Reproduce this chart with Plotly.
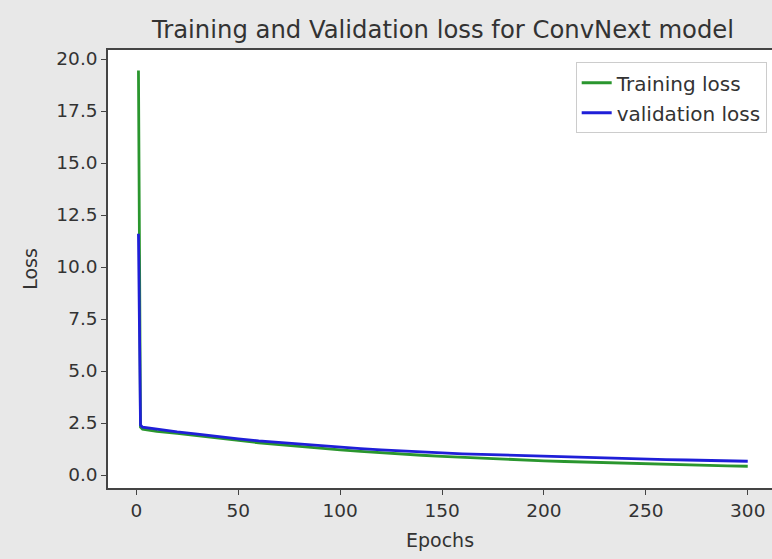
import plotly.graph_objects as go

epochs = [1, 2, 3, 5, 10, 20, 30, 40, 50, 60, 70, 80, 90, 100, 110, 120, 130, 140, 150,
          160, 170, 180, 190, 200, 210, 220, 230, 240, 250, 260, 270, 280, 290, 300]
train_loss = [19.45, 2.3, 2.2, 2.17, 2.1, 2.0, 1.88, 1.76, 1.65, 1.55, 1.46, 1.37, 1.29, 1.21,
              1.14, 1.07, 1.01, 0.95, 0.90, 0.85, 0.80, 0.76, 0.72, 0.68, 0.65, 0.62, 0.59,
              0.56, 0.53, 0.50, 0.48, 0.46, 0.44, 0.42]
val_loss = [11.6, 2.4, 2.3, 2.27, 2.2, 2.07, 1.96, 1.84, 1.74, 1.64, 1.56, 1.48, 1.40, 1.33,
            1.27, 1.21, 1.15, 1.10, 1.06, 1.02, 0.99, 0.95, 0.92, 0.89, 0.86, 0.83, 0.81,
            0.79, 0.76, 0.74, 0.72, 0.70, 0.68, 0.66]
x_ticks = [0, 50, 100, 150, 200, 250, 300]
y_ticks = [0.0, 2.5, 5.0, 7.5, 10.0, 12.5, 15.0, 17.5, 20.0]

FONT = "DejaVu Sans"
W, H = 772, 559
L, R, T, B = 108, 0, 50, 71

fig = go.Figure()
fig.add_trace(go.Scatter(x=epochs, y=train_loss, mode="lines", name="Training loss",
                         line=dict(color="#2a962e", width=2.8), legendgroup="a"))
fig.add_trace(go.Scatter(x=epochs, y=val_loss, mode="lines", name="validation loss",
                         line=dict(color="#1f1fd8", width=2.8), legendgroup="b"))

fig.update_layout(
    width=W, height=H,
    margin=dict(l=L, r=R, t=T, b=B, pad=0),
    paper_bgcolor="#e8e8e8", plot_bgcolor="#ffffff",
    font=dict(family=FONT, size=18, color="#333333"),
    title=dict(text="Training and Validation loss for ConvNext model",
               x=(443 - L) / (W - L - R), xref="paper", xanchor="center",
               y=1 - 29 / H, yref="container", yanchor="middle",
               font=dict(family=FONT, size=24.3, color="#333333")),
    showlegend=True,
    legend=dict(x=0.992, y=0.972, xanchor="right", yanchor="top",
                bgcolor="#ffffff", bordercolor="#cccccc", borderwidth=1,
                font=dict(family=FONT, size=20, color="#333333"),
                traceorder="grouped", tracegroupgap=1),
)
fig.update_xaxes(range=[-13.95, 311.9], tickvals=x_ticks, ticktext=[str(v) for v in x_ticks],
                 showgrid=False, zeroline=False, showline=True, linecolor="#444444", linewidth=1.5,
                 mirror=True, ticks="outside", ticklen=5, tickcolor="#444444",
                 tickfont=dict(size=18.5),
                 title=dict(text="Epochs", standoff=14, font=dict(size=19)))
fig.update_yaxes(range=[-0.625, 20.433], tickvals=y_ticks, ticktext=[f"{v:.1f}" for v in y_ticks],
                 showgrid=False, zeroline=False, showline=True, linecolor="#444444", linewidth=1.5,
                 mirror=False, ticks="outside", ticklen=5, tickcolor="#444444",
                 tickfont=dict(size=18.5),
                 title=dict(text="Loss", standoff=14, font=dict(size=19)))

fig.write_html("out.html")
